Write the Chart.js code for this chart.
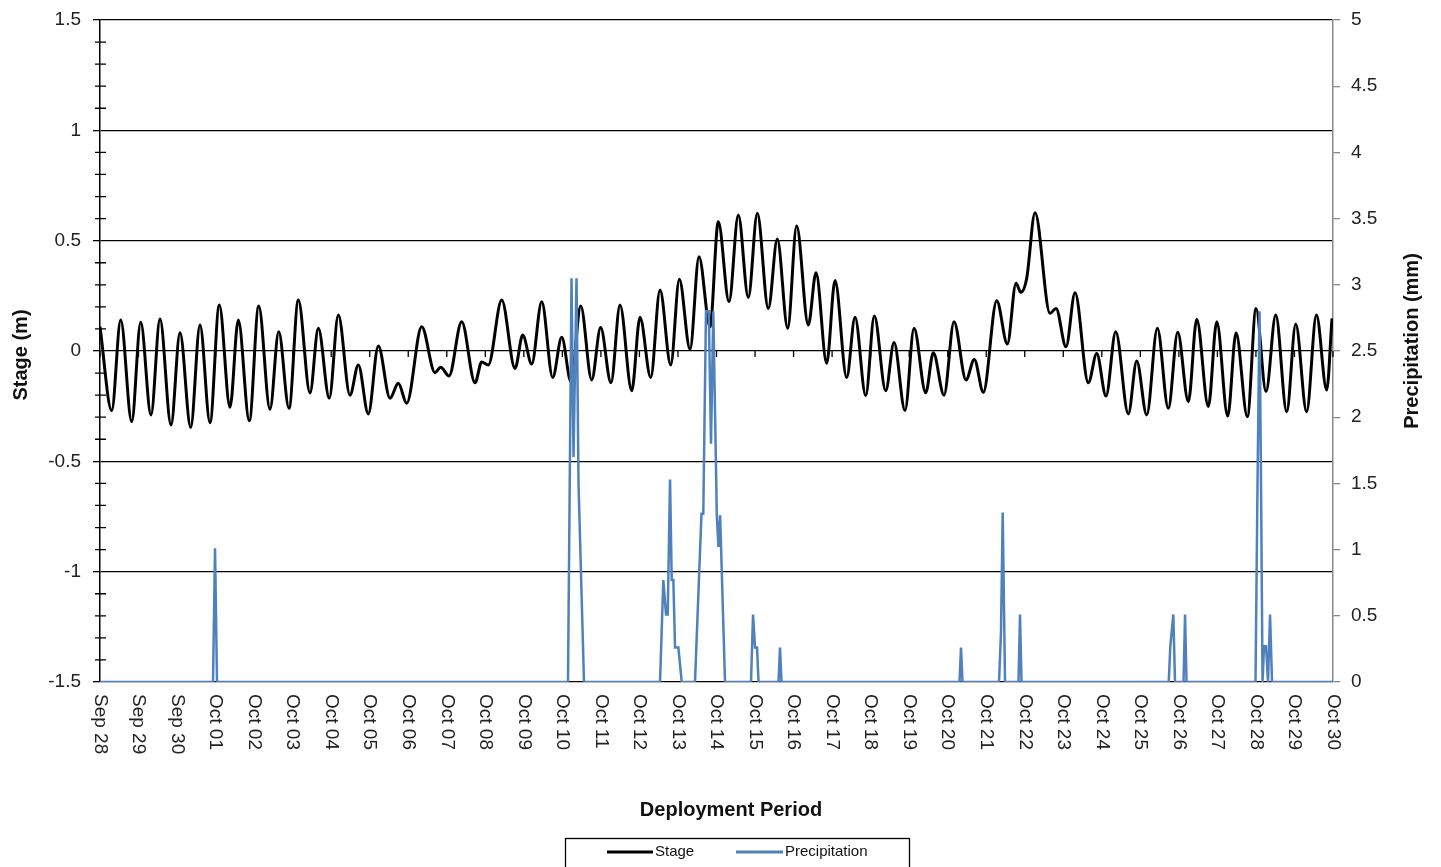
<!DOCTYPE html>
<html><head><meta charset="utf-8">
<script src="https://cdn.jsdelivr.net/npm/chart.js@4.4.1/dist/chart.umd.min.js"></script>
<style>html,body{margin:0;padding:0;background:#fff;}</style>
</head><body>
<canvas id="c" width="1441" height="867"></canvas>
<script>
// ---- data (day offset from Sep 28 00:00) ----
const dayLabels = ['Sep 28','Sep 29','Sep 30','Oct 01','Oct 02','Oct 03','Oct 04','Oct 05','Oct 06','Oct 07','Oct 08','Oct 09','Oct 10','Oct 11','Oct 12','Oct 13','Oct 14','Oct 15','Oct 16','Oct 17','Oct 18','Oct 19','Oct 20','Oct 21','Oct 22','Oct 23','Oct 24','Oct 25','Oct 26','Oct 27','Oct 28','Oct 29','Oct 30'];

const stageDays = [0,0.304,0.537,0.823,1.056,1.324,1.557,1.843,2.076,2.354,2.595,2.855,3.096,3.374,3.589,3.875,4.119,4.412,4.638,4.905,5.147,
 5.450,5.666,5.951,6.185,6.488,6.704,6.963,7.223,7.527,7.742,7.960,8.349,8.695,8.842,9.058,9.387,9.733,9.906,10.078,10.426,10.771,
 10.971,11.204,11.464,11.749,11.983,12.224,12.476,12.761,12.993,13.262,13.496,13.800,14.015,14.293,14.534,14.812,15.035,15.313,15.546,15.832,16.047,
 16.325,16.566,16.826,17.059,17.345,17.578,17.848,18.080,18.383,18.583,18.860,19.076,19.379,19.595,19.873,20.096,20.392,20.607,20.893,21.126,21.430,21.627,
 21.905,22.164,22.476,22.691,22.925,23.273,23.548,23.774,23.896,24.051,24.267,24.656,24.812,25.071,25.305,25.650,25.868,26.109,26.361,26.688,26.906,
 27.166,27.441,27.726,27.970,28.246,28.464,28.765,28.983,29.268,29.484,29.777,30.003,30.262,30.514,30.799,31.033,31.315,31.570,31.836,31.974];
const stageValues = [0.11,-0.27,0.14,-0.32,0.13,-0.29,0.145,-0.335,0.083,-0.346,0.118,-0.325,0.208,-0.255,0.14,-0.316,0.204,-0.264,0.087,-0.26,0.231,
 -0.19,0.103,-0.214,0.163,-0.2,-0.063,-0.285,0.023,-0.214,-0.146,-0.237,0.11,-0.098,-0.074,-0.113,0.133,-0.144,-0.05,-0.063,0.231,-0.079,
 0.072,-0.059,0.223,-0.12,0.062,-0.14,0.204,-0.131,0.106,-0.144,0.208,-0.18,0.153,-0.12,0.276,-0.063,0.325,0.008,0.427,0.11,0.586,
 0.223,0.616,0.242,0.624,0.193,0.507,0.103,0.566,0.118,0.355,-0.056,0.319,-0.12,0.153,-0.202,0.159,-0.18,0.038,-0.27,0.103,-0.189,-0.008,
 -0.2,0.133,-0.131,-0.038,-0.187,0.228,0.032,0.307,0.266,0.33,0.627,0.171,0.193,0.019,0.264,-0.144,-0.011,-0.204,0.087,-0.285,-0.045,
 -0.29,0.103,-0.26,0.085,-0.23,0.144,-0.252,0.133,-0.295,0.083,-0.298,0.193,-0.184,0.163,-0.275,0.122,-0.275,0.163,-0.177,0.148];

const precipDays = [0,2.933,2.985,3.037,12.146,12.237,12.289,12.367,12.419,12.561,14.534,14.620,14.690,14.734,14.794,14.838,14.880,14.924,15.010,15.098,
 15.442,15.610,15.657,15.727,15.800,15.857,15.917,16.008,16.050,16.094,16.221,16.896,16.948,17.000,17.052,17.091,17.609,17.648,17.687,
 22.307,22.346,22.385,23.332,23.384,23.428,23.488,23.838,23.877,23.916,27.737,27.776,27.856,27.900,28.121,28.160,28.199,
 29.989,30.041,30.093,30.132,30.171,30.210,30.262,30.314,30.366,30.418,32];
const precipValues = [0,0,1.01,0,0,3.05,1.7,3.05,1.5,0,0,0.77,0.51,0.51,1.53,0.77,0.77,0.26,0.26,0,
 0,1.27,1.27,2.8,2.8,1.8,2.8,1.26,1.02,1.26,0,0,0.51,0.26,0.26,0,0,0.26,0,
 0,0.26,0,0,0.38,1.28,0,0,0.51,0,0,0.26,0.51,0,0,0.51,0,
 0,1.5,2.8,1.5,0,0.27,0.27,0,0.51,0,0];

const stageTicks = [-1.5,-1,-0.5,0,0.5,1,1.5];
const stageTickLabels = ['-1.5','-1','-0.5','0','0.5','1','1.5'];
const stageMinorTicks = [-1.4,-1.3,-1.2,-1.1,-0.9,-0.8,-0.7,-0.6,-0.4,-0.3,-0.2,-0.1,0.1,0.2,0.3,0.4,0.6,0.7,0.8,0.9,1.1,1.2,1.3,1.4];
const precipTicks = [0,0.5,1,1.5,2,2.5,3,3.5,4,4.5,5];
const precipTickLabels = ['0','0.5','1','1.5','2','2.5','3','3.5','4','4.5','5'];

const FONT = "'Liberation Sans', Arial, sans-serif";
Chart.defaults.font.family = FONT;

const decor = {
  id: 'decor',
  beforeDatasetsDraw(chart) {
    const {ctx, chartArea, scales: {x, y}} = chart;
    ctx.save();
    ctx.strokeStyle = '#000';
    ctx.lineWidth = 1.3;
    ctx.beginPath();
    stageMinorTicks.forEach(v => {
      const py = y.getPixelForValue(v);
      ctx.moveTo(chartArea.left - 5, py); ctx.lineTo(chartArea.left + 6, py);
    });
    const y0 = y.getPixelForValue(0);
    dayLabels.forEach((_, i) => {
      const px = x.getPixelForValue(i);
      ctx.moveTo(px, y0); ctx.lineTo(px, y0 + 6);
    });
    ctx.stroke();
    ctx.restore();
  },
  afterDraw(chart) {
    const {ctx, chartArea, scales: {x}} = chart;
    ctx.save();
    // x tick labels, rotated to read top to bottom
    ctx.fillStyle = '#222';
    ctx.font = '19px ' + FONT;
    ctx.textAlign = 'left';
    ctx.textBaseline = 'middle';
    dayLabels.forEach((lab, i) => {
      const px = x.getPixelForValue(i);
      ctx.save();
      ctx.translate(px, chartArea.bottom + 12);
      ctx.rotate(Math.PI / 2);
      ctx.fillText(lab, 0, 0);
      ctx.restore();
    });
    // axis titles
    ctx.fillStyle = '#111';
    ctx.font = 'bold 20px ' + FONT;
    ctx.textAlign = 'center';
    ctx.fillText('Deployment Period', 731, 810);
    ctx.save(); ctx.translate(21, 355); ctx.rotate(-Math.PI / 2); ctx.fillText('Stage (m)', 0, 0); ctx.restore();
    ctx.save(); ctx.translate(1412, 341); ctx.rotate(-Math.PI / 2); ctx.fillText('Precipitation (mm)', 0, 0); ctx.restore();
    // legend
    ctx.strokeStyle = '#000'; ctx.lineWidth = 1.3;
    ctx.strokeRect(565.5, 838.5, 344, 40);
    ctx.lineWidth = 3;
    ctx.strokeStyle = '#000';
    ctx.beginPath(); ctx.moveTo(607, 852); ctx.lineTo(653, 852); ctx.stroke();
    ctx.strokeStyle = '#4F81BD';
    ctx.beginPath(); ctx.moveTo(736, 852); ctx.lineTo(783, 852); ctx.stroke();
    ctx.fillStyle = '#111';
    ctx.font = '15px ' + FONT;
    ctx.textAlign = 'left';
    ctx.fillText('Stage', 655, 852);
    ctx.fillText('Precipitation', 785, 852);
    ctx.restore();
  }
};

new Chart(document.getElementById('c'), {
  type: 'line',
  data: {
    datasets: [
      { label: 'Stage', data: stageDays.map((d, i) => ({x: d, y: stageValues[i]})), yAxisID: 'y',
        borderColor: '#000', borderWidth: 3, pointRadius: 0, cubicInterpolationMode: 'monotone', fill: false, order: 1 },
      { label: 'Precipitation', data: precipDays.map((d, i) => ({x: d, y: precipValues[i]})), yAxisID: 'y2',
        borderColor: '#4F81BD', borderWidth: 2.5, pointRadius: 0, tension: 0, fill: false, order: 0 }
    ]
  },
  options: {
    responsive: false, animation: false,
    layout: { padding: { top: 20, left: 0, right: 0, bottom: 0 } },
    plugins: { legend: { display: false }, tooltip: { enabled: false } },
    scales: {
      x: { type: 'linear', min: 0, max: 32, position: 'bottom',
        afterBuildTicks: s => { s.ticks = dayLabels.map((_, i) => ({value: i})); },
        ticks: { display: false }, grid: { display: false }, border: { display: false },
        afterFit: s => { s.height = 185; s.paddingLeft = 0; s.paddingRight = 0; } },
      y: { position: 'left', min: -1.5, max: 1.5,
        afterBuildTicks: s => { s.ticks = stageTicks.map(v => ({value: v})); },
        ticks: { callback: (v, i) => stageTickLabels[i], font: { size: 19 }, color: '#222', padding: 12 },
        grid: { color: '#000', lineWidth: 1.3, tickLength: 7, tickColor: '#000' },
        border: { color: '#000', width: 1.5 },
        afterFit: s => { s.width = 100; s.paddingTop = 0; s.paddingBottom = 0; } },
      y2: { position: 'right', min: 0, max: 5,
        afterBuildTicks: s => { s.ticks = precipTicks.map(v => ({value: v})); },
        ticks: { callback: (v, i) => precipTickLabels[i], font: { size: 19 }, color: '#222', padding: 11 },
        grid: { drawOnChartArea: false, tickLength: 7, color: '#888', lineWidth: 1.3 },
        border: { color: '#888', width: 1.5 },
        afterFit: s => { s.width = 108; s.paddingTop = 0; s.paddingBottom = 0; } }
    }
  },
  plugins: [decor]
});
</script>
</body></html>
